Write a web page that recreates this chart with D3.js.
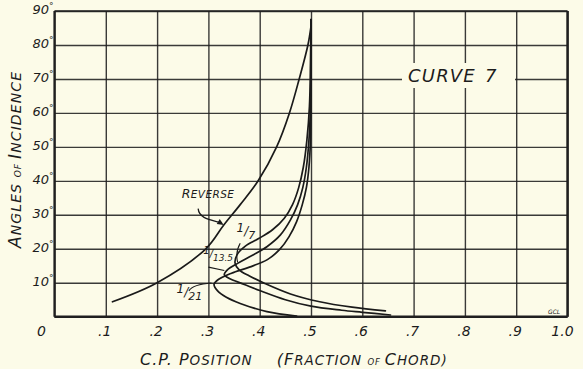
<!DOCTYPE html>
<html><head><meta charset="utf-8">
<script src="https://cdn.jsdelivr.net/npm/d3@7"></script>
<style>
body{margin:0;background:#fcfbe8}
text{font-family:"DejaVu Sans","Liberation Sans",sans-serif;font-style:italic;fill:#1c1c1c}
</style>
</head><body>
<svg id="c" width="583" height="369"></svg>
<script>
// ---------- data ----------
const xTicks = [0,0.1,0.2,0.3,0.4,0.5,0.6,0.7,0.8,0.9,1.0];
const xTickLabels = ["0",".1",".2",".3",".4",".5",".6",".7",".8",".9","1.0"];
const yTicks = [0,10,20,30,40,50,60,70,80,90];
const yTickLabels = ["","10","20","30","40","50","60","70","80","90"];

// [C.P. position, angle of incidence]
const reverseCurve = [[0.113,4.4],[0.2,10],[0.295,20],[0.33,27],[0.362,33],[0.397,40],[0.433,50],[0.458,60],[0.477,70],[0.494,80],[0.5,85.5]];
const curve1_7 = [[0.5,87.5],[0.499,75],[0.497,62],[0.492,52],[0.485,44],[0.476,38],[0.464,33],[0.448,29],[0.425,25.6],[0.398,23],[0.372,20.8],[0.356,18.3],[0.352,15.8],[0.36,13.8],[0.38,12],[0.41,9.8],[0.46,6.7],[0.517,4.4],[0.58,2.8],[0.645,1.7]];
const curve1_13_5 = [[0.5,87.5],[0.5,75],[0.499,62],[0.496,52],[0.491,44],[0.484,38],[0.474,33],[0.46,28.5],[0.44,24],[0.414,20.6],[0.385,18],[0.357,15.7],[0.337,13.8],[0.331,12.4],[0.34,11.3],[0.37,9.5],[0.4,7.7],[0.45,5],[0.5,3.1],[0.56,1.9],[0.6,1.3],[0.655,0.5]];
const curve1_21 = [[0.5,87.5],[0.5,75],[0.5,62],[0.499,52],[0.496,44],[0.491,38],[0.483,33],[0.472,28],[0.457,23.5],[0.439,19.8],[0.415,16.8],[0.38,14.6],[0.345,12.8],[0.318,10.8],[0.311,9.5],[0.318,7.6],[0.335,5.7],[0.362,3.9],[0.414,1.5],[0.472,0.2]];

// ---------- setup ----------
const svg = d3.select("#c");
const x = d3.scaleLinear().domain([0,1]).range([54.5,567.5]);
const y = d3.scaleLinear().domain([0,90]).range([316.7,11]);
const ink = "#1f1f1f";
const paper = "#fcfbe8";

svg.append("rect").attr("width",583).attr("height",369).attr("fill",paper);

// grid via axes
const gx = svg.append("g").attr("transform",`translate(0,${y(0)})`)
  .call(d3.axisBottom(x).tickValues(xTicks).tickSize(-(y(0)-y(90))).tickFormat(""));
const gy = svg.append("g").attr("transform",`translate(${x(0)},0)`)
  .call(d3.axisLeft(y).tickValues(yTicks).tickSize(-(x(1)-x(0))).tickFormat(""));
[gx,gy].forEach(g=>{
  g.select(".domain").remove();
  g.selectAll(".tick line").attr("stroke",ink).attr("stroke-width",1.4).attr("opacity",0.88);
});

// heavier frame
svg.append("line").attr("x1",x(0)).attr("x2",x(0)).attr("y1",y(90)).attr("y2",y(0)).attr("stroke",ink).attr("stroke-width",2.2);
svg.append("line").attr("x1",x(0)).attr("x2",x(1)).attr("y1",y(0)).attr("y2",y(0)).attr("stroke",ink).attr("stroke-width",2.6);
svg.append("line").attr("x1",x(1)).attr("x2",x(1)).attr("y1",y(90)).attr("y2",y(0)).attr("stroke",ink).attr("stroke-width",2.4);
svg.append("line").attr("x1",x(0)).attr("x2",x(1)).attr("y1",y(90)).attr("y2",y(90)).attr("stroke",ink).attr("stroke-width",1.6);

// tick labels
const xl = svg.append("g");
xTicks.forEach((t,i)=>{
  const dx = i===0 ? -13 : (i===10 ? -5 : -1);
  xl.append("text").attr("x",x(t)+dx).attr("y",336).attr("text-anchor","middle")
    .attr("font-size",14).text(xTickLabels[i]);
});
const yl = svg.append("g");
yTicks.forEach((t,i)=>{
  if(!yTickLabels[i]) return;
  const tx = yl.append("text").attr("x",x(0)-1).attr("y",y(t)+3).attr("text-anchor","end").attr("font-size",13);
  tx.append("tspan").text(yTickLabels[i]);
  tx.append("tspan").attr("font-size",9).attr("dy",-5).text("°");
});

// axis titles
const xt = svg.append("text").attr("x",140).attr("y",365).attr("font-size",16).attr("letter-spacing",1);
xt.append("tspan").text("C.P. P");
xt.append("tspan").attr("font-size",13.5).text("OSITION");
xt.append("tspan").attr("dx",24).text("(F");
xt.append("tspan").attr("font-size",13.5).text("RACTION ");
xt.append("tspan").attr("font-size",8.5).text("OF ");
xt.append("tspan").text("C");
xt.append("tspan").attr("font-size",13.5).text("HORD)");

const yt = svg.append("text").attr("transform","translate(21,248) rotate(-90)").attr("font-size",17).attr("letter-spacing",1.1);
yt.append("tspan").text("A");
yt.append("tspan").attr("font-size",14).text("NGLES ");
yt.append("tspan").attr("font-size",9).text("OF ");
yt.append("tspan").text("I");
yt.append("tspan").attr("font-size",14).text("NCIDENCE");

// CURVE 7 label with paper background breaking the grid
svg.append("rect").attr("x",402).attr("y",63).attr("width",113).attr("height",25).attr("fill",paper);
const ct = svg.append("text").attr("x",408).attr("y",82).attr("font-size",18).attr("letter-spacing",1.2);
ct.append("tspan").text("CURVE");
ct.append("tspan").attr("dx",9).text("7");

// curves
const line = d3.line().x(d=>x(d[0])).y(d=>y(d[1])).curve(d3.curveCatmullRom.alpha(0.5));
[reverseCurve,curve1_7,curve1_13_5,curve1_21].forEach(c=>{
  svg.append("path").attr("d",line(c)).attr("fill","none").attr("stroke","#1a1a1a").attr("stroke-width",1.7).attr("stroke-linecap","round");
});

// annotations
const rv = svg.append("text").attr("x",x(0.248)).attr("y",y(34.9)).attr("font-size",12.5).attr("letter-spacing",0.4);
rv.append("tspan").text("R");
rv.append("tspan").attr("font-size",10.5).text("EVERSE");
const a0=[x(0.280),y(31.8)], a1=[x(0.326),y(27.6)];
svg.append("path").attr("d",`M${a0[0]},${a0[1]} C${a0[0]+1},${a0[1]+10} ${a0[0]+12},${a0[1]+11} ${a1[0]},${a1[1]}`)
  .attr("fill","none").attr("stroke","#1a1a1a").attr("stroke-width",1.3);
svg.append("path").attr("d",`M${a1[0]+2},${a1[1]+2} l-7,-1 l3,-5 z`).attr("fill","#1a1a1a");

function frac(px,py,num,den,fs){
  const t = svg.append("text").attr("x",px).attr("y",py).attr("font-size",fs);
  t.append("tspan").text(num);
  t.append("tspan").attr("dy",3).text("/");
  t.append("tspan").attr("dy",4).attr("font-size",fs-1).text(den);
}
frac(x(0.355),y(24.8),"1","7",12);
frac(x(0.290),y(18.4),"1","13.5",10);
frac(x(0.238),y(7.0),"1","21",12);
svg.append("path").attr("d",`M${x(0.362)},${y(21.6)} Q${x(0.352)},${y(19)} ${x(0.357)},${y(16)}`).attr("fill","none").attr("stroke","#1a1a1a").attr("stroke-width",1.1);
svg.append("path").attr("d",`M${x(0.300)},${y(14.6)} L${x(0.331)},${y(13.6)}`).attr("fill","none").attr("stroke","#1a1a1a").attr("stroke-width",1.1);
svg.append("path").attr("d",`M${x(0.262)},${y(7.6)} Q${x(0.27)},${y(9.5)} ${x(0.306)},${y(9.9)}`).attr("fill","none").attr("stroke","#1a1a1a").attr("stroke-width",1.1);

// signature
svg.append("text").attr("x",548).attr("y",314).attr("font-size",6).text("GCL");
</script>
</body></html>
